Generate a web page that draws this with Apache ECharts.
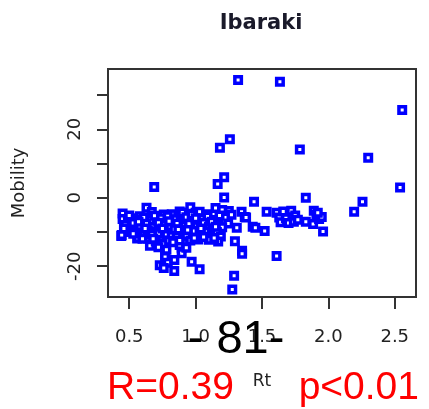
<!DOCTYPE html>
<html>
<head>
<meta charset="utf-8">
<script src="https://cdn.jsdelivr.net/npm/echarts@6/dist/echarts.min.js"></script>
<style>
html,body{margin:0;padding:0;background:#fff;}
#chart{width:429px;height:409px;}
</style>
</head>
<body>
<div id="chart"></div>
<script>
// Rt (x) values
const rt = [
  1.32, 1.635, 2.556, 1.258, 1.183, 1.785, 2.30, 1.215, 1.166, 0.688, 2.54, 1.215, 1.83, 1.44, 2.257, 2.194,
  1.29, 1.276, 1.61, 1.296, 1.35, 1.35, 1.31, 1.25, 1.346, 1.37, 1.38, 1.43, 1.45, 1.52, 1.535, 1.245,
  1.61, 1.63, 1.64, 1.66, 1.68, 1.70, 1.72, 1.74, 1.75, 1.77, 1.83, 1.89, 1.885, 1.91, 1.93, 1.95, 1.96, 1.92,
  0.45, 0.52, 0.58, 0.63, 0.67, 0.71, 0.76, 0.82, 0.88, 0.90, 0.96, 1.00, 1.03, 1.08, 1.15, 1.20,
  0.45, 0.49, 0.55, 0.61, 0.66, 0.69, 0.74, 0.79, 0.84, 0.90, 0.93, 0.97, 0.98, 1.05, 1.09, 1.14, 1.18, 1.27,
  0.47, 0.53, 0.58, 0.63, 0.68, 0.72, 0.77, 0.81, 0.86, 0.92, 0.95, 1.01, 1.06, 1.10, 1.13, 1.17, 1.20,
  0.44, 0.48, 0.51, 0.56, 0.60, 0.64, 0.64, 0.70, 0.72, 0.74, 0.78, 0.82, 0.84, 0.86, 0.89, 0.93, 0.99, 1.03, 1.08, 1.12, 1.16, 1.19,
  0.443, 0.563, 0.656, 0.70, 0.76, 0.80, 0.857, 0.91, 0.96, 1.02, 1.10, 1.17,
  0.77, 0.77, 0.79, 0.73, 0.84, 0.839, 0.895, 0.895, 0.97, 1.03, 0.88, 0.78, 0.76,
  0.50, 0.57, 0.62, 0.67, 0.75, 0.80, 0.87, 0.94, 1.00, 1.04, 1.12, 1.15, 0.53, 0.60, 0.68, 0.83, 0.99, 1.06, 1.14, 0.46, 0.88, 0.72, 0.93
];
// Mobility (y) values
const mobility = [
  34.4, 33.9, 25.6, 17.1, 14.6, 14.1, 11.7, 6.0, 4.0, 3.1, 3.0, 0.1, 0.0, -1.2, -1.2, -4.1,
  -22.8, -26.8, -17.0, -12.7, -15.5, -16.4, -8.8, -3.9, -4.1, -5.6, -5.8, -8.5, -8.8, -9.7, -4.1, -7.5,
  -4.4, -5.8, -7.2, -4.0, -6.0, -7.4, -3.8, -7.0, -5.2, -6.4, -7.0, -3.8, -7.7, -5.0, -6.2, -5.6, -9.9, -4.4,
  -4.6, -6.0, -5.4, -2.9, -4.2, -5.6, -4.9, -4.8, -4.0, -4.3, -2.8, -4.4, -4.1, -4.8, -3.0, -3.6,
  -6.2, -6.8, -6.4, -5.8, -6.6, -5.3, -6.0, -5.4, -6.3, -6.8, -5.7, -4.9, -6.8, -6.2, -5.5, -6.5, -5.2, -5.0,
  -8.0, -7.4, -8.2, -7.6, -8.6, -7.3, -7.8, -8.4, -7.5, -8.1, -7.6, -8.3, -7.4, -8.5, -9.0, -7.8, -8.6,
  -11.2, -10.0, -9.6, -11.9, -10.3, -9.7, -11.9, -9.9, -10.4, -12.4, -10.6, -11.2, -9.2, -11.9, -10.2, -11.0, -9.7, -10.5, -9.9, -10.8, -10.0, -11.3,
  -10.9, -11.7, -14.0, -12.8, -13.5, -12.6, -11.4, -13.0, -12.5, -12.2, -12.3, -12.8,
  -16.8, -17.3, -19.0, -19.7, -18.2, -21.4, -14.6, -16.2, -18.7, -20.9, -13.8, -15.2, -20.5,
  -5.2, -7.0, -9.0, -10.8, -9.0, -6.9, -9.3, -9.4, -6.0, -9.0, -7.0, -8.5, -10.5, -12.0, -12.0, -13.0, -11.8, -11.5, -11.8, -9.0, -12.5, -14.5, -14.6
];
const xTicks = [0.5, 1.0, 1.5, 2.0, 2.5];
const yTicks = [-20, -10, 0, 10, 20, 30];
const yLabels = [-20, 0, 20];

const data = rt.map((v, i) => [v, mobility[i]]);

const chart = echarts.init(document.getElementById('chart'), null, {renderer: 'canvas'});
const tickStyle = {color: '#333', width: 2};
const labelFont = 'DejaVu Sans';
chart.setOption({
  animation: false,
  backgroundColor: '#fff',
  grid: {left: 108, right: 13, top: 69, bottom: 112, show: true, borderColor: '#333', borderWidth: 2, backgroundColor: 'transparent'},
  xAxis: {
    type: 'value', min: 0.34, max: 2.66,
    name: 'Rt', nameLocation: 'middle', nameGap: 76,
    nameTextStyle: {fontFamily: labelFont, fontSize: 17, color: '#222'},
    axisLine: {show: false, onZero: false},
    splitLine: {show: false},
    axisTick: {show: true, length: 12, lineStyle: tickStyle, customValues: xTicks},
    axisLabel: {show: true, margin: 31, fontFamily: labelFont, fontSize: 18, color: '#222',
      customValues: xTicks, formatter: v => v.toFixed(1)}
  },
  yAxis: {
    type: 'value', min: -29, max: 37.6,
    name: 'Mobility', nameLocation: 'middle', nameGap: 80, nameRotate: 90,
    nameTextStyle: {fontFamily: labelFont, fontSize: 18, color: '#222'},
    axisLine: {show: false, onZero: false},
    splitLine: {show: false},
    axisTick: {show: true, length: 11, lineStyle: tickStyle, customValues: yTicks},
    axisLabel: {show: true, margin: 24, rotate: 90, fontFamily: labelFont, fontSize: 18, color: '#222',
      customValues: yLabels}
  },
  series: [{
    type: 'scatter',
    data: data,
    symbol: 'rect',
    symbolSize: 6.5,
    itemStyle: {color: '#ffffff', borderColor: '#0000ff', borderWidth: 3.5, opacity: 1},
    silent: true
  }],
  graphic: [
    {type: 'text', x: 261, y: 24, style: {text: 'Ibaraki', font: 'bold 21px "DejaVu Sans"', fill: '#1a1a2a', textAlign: 'center', textVerticalAlign: 'middle'}},
    {type: 'text', x: 236, y: 340, z: 100, style: {text: '- 81-', font: '47px "Liberation Sans"', fill: '#000', textAlign: 'center', textVerticalAlign: 'middle'}},
    {type: 'text', x: 107, y: 388, z: 100, style: {text: 'R=0.39', font: '39px "Liberation Sans"', fill: '#ff0000', textAlign: 'left', textVerticalAlign: 'middle'}},
    {type: 'text', x: 419, y: 388, z: 100, style: {text: 'p<0.01', font: '39px "Liberation Sans"', fill: '#ff0000', textAlign: 'right', textVerticalAlign: 'middle'}}
  ]
});
</script>
</body>
</html>
